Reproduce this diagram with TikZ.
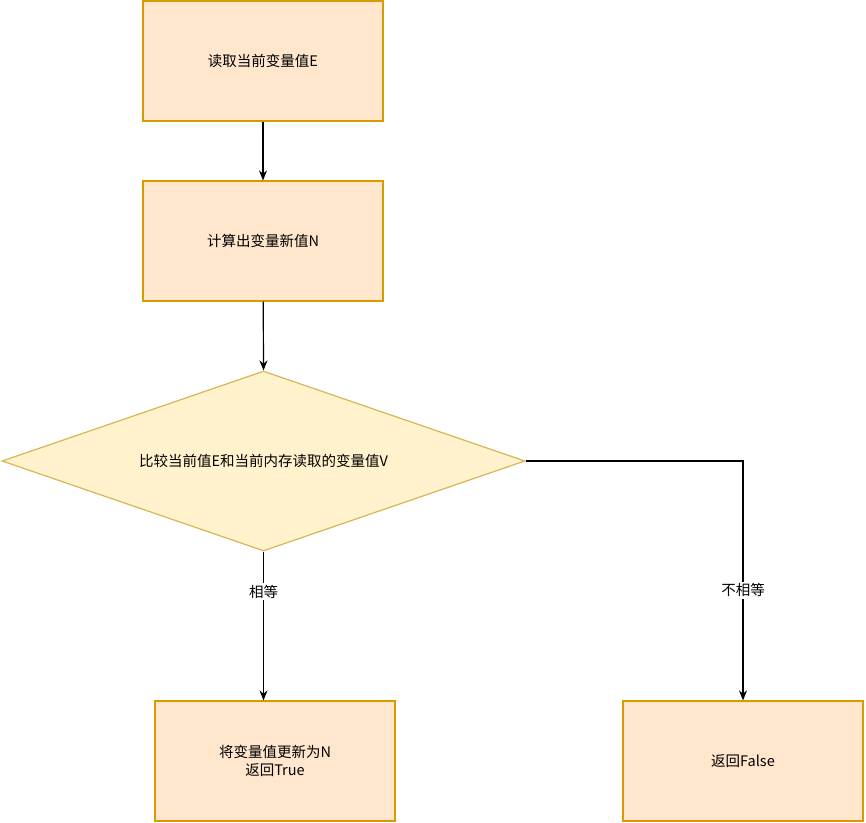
\documentclass[tikz,border=0pt]{standalone}
\usepackage{fontspec}
\setmainfont{Noto Sans CJK SC}
\usetikzlibrary{shapes.geometric,arrows.meta}
\definecolor{ofill}{HTML}{FFE6CC}\definecolor{oline}{HTML}{D79B00}
\definecolor{yfill}{HTML}{FFF2CC}\definecolor{yline}{HTML}{D6B656}
\begin{document}
\begin{tikzpicture}[x=1pt,y=-1pt,font=\fontsize{14.5}{18}\selectfont,
 box/.style={draw=oline,fill=ofill,line width=1.2pt,minimum width=240pt,minimum height=120pt,inner sep=0pt,align=center},
 arr/.style={-{Stealth[length=10pt,width=8pt]},line width=1.2pt},
 lab/.style={fill=white,inner sep=2pt}]
\useasboundingbox (0,0) rectangle (866,822);
\node[box] (a) at (263,61) {读取当前变量值E};
\node[box] (b) at (263,241) {计算出变量新值N};
\node[draw=yline,fill=yfill,line width=1.2pt,diamond,aspect=2.9,minimum width=523pt,minimum height=180pt,inner sep=0pt] (c) at (263.5,461) {};
\node at (c) {比较当前值E和当前内存读取的变量值V};
\node[box] (d) at (275,761) {将变量值更新为N\\返回True};
\node[box] (e) at (743,761) {返回False};
\draw[arr] (a) -- (b);
\draw[arr] (b) -- (c.north);
\draw[arr] (c.south) -- (d.north -| c.south) node[lab,pos=0.27] {相等};
\draw[arr] (c.east) -| (e.north) node[lab,pos=0.77] {不相等};
\end{tikzpicture}
\end{document}
